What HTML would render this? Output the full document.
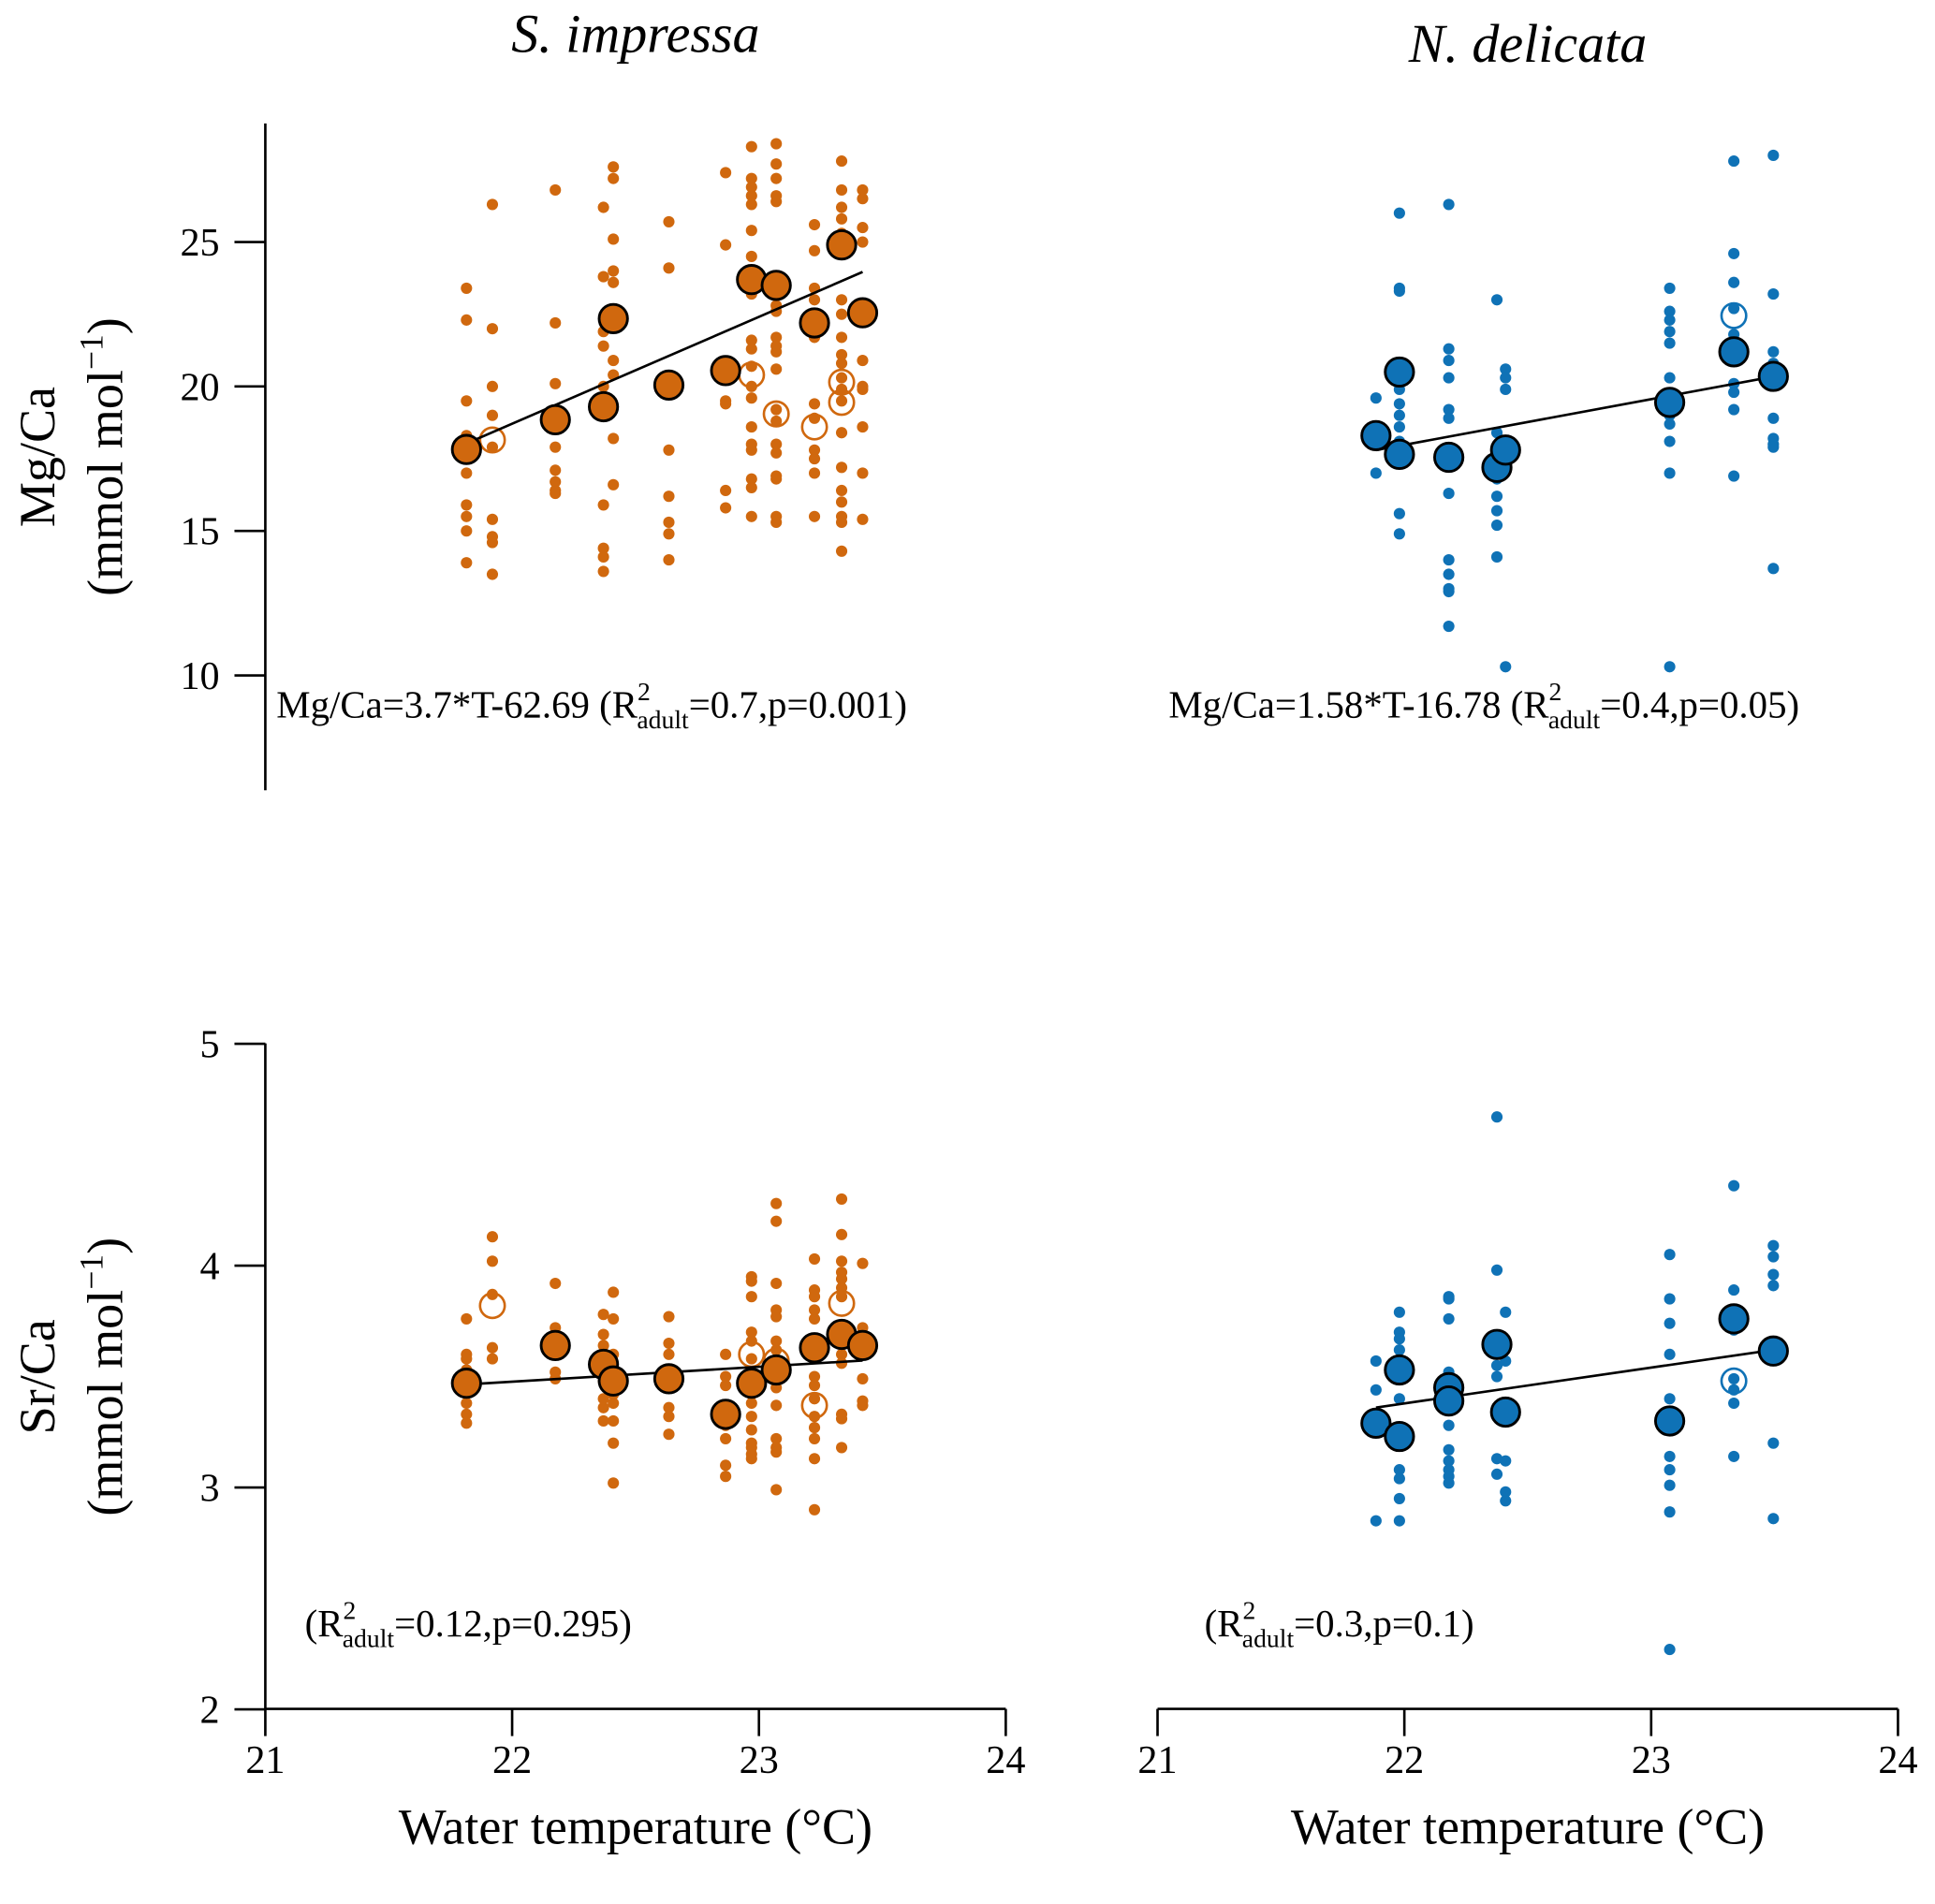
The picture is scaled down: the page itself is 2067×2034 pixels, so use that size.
<!DOCTYPE html>
<html><head><meta charset="utf-8"><style>
html,body{margin:0;padding:0;background:#fff;}
svg{display:block;}
text{font-family:"Liberation Serif",serif;fill:#000;}
</style></head><body>
<svg id="chart" xmlns="http://www.w3.org/2000/svg" width="2067" height="2034" viewBox="0 0 1568 1542" preserveAspectRatio="none">
<text x="515" y="42" font-size="44" font-style="italic" text-anchor="middle">S. impressa</text>
<text x="1238" y="50" font-size="44" font-style="italic" text-anchor="middle">N. delicata</text>
<g transform="translate(44,370) rotate(-90)"><text text-anchor="middle" font-size="41">Mg/Ca</text></g>
<g transform="translate(99,370) rotate(-90)"><text text-anchor="middle" font-size="41">(mmol mol<tspan dy="-16" font-size="27">−1</tspan><tspan dy="16">)</tspan></text></g>
<g transform="translate(44,1115) rotate(-90)"><text text-anchor="middle" font-size="41">Sr/Ca</text></g>
<g transform="translate(99,1115) rotate(-90)"><text text-anchor="middle" font-size="41">(mmol mol<tspan dy="-16" font-size="27">−1</tspan><tspan dy="16">)</tspan></text></g>
<text x="515" y="1493" font-size="41" text-anchor="middle">Water temperature (°C)</text>
<text x="1238" y="1493" font-size="41" text-anchor="middle">Water temperature (°C)</text>
<text x="224" y="581" font-size="31">Mg/Ca=3.7*T-62.69 (R<tspan dy="-14" font-size="21">2</tspan><tspan dx="-11" dy="23" font-size="21">adult</tspan><tspan dy="-9">=0.7,p=0.001)</tspan></text>
<text x="947" y="581" font-size="31">Mg/Ca=1.58*T-16.78 (R<tspan dy="-14" font-size="21">2</tspan><tspan dx="-11" dy="23" font-size="21">adult</tspan><tspan dy="-9">=0.4,p=0.05)</tspan></text>
<text x="247" y="1325" font-size="31">(R<tspan dy="-14" font-size="21">2</tspan><tspan dx="-11" dy="23" font-size="21">adult</tspan><tspan dy="-9">=0.12,p=0.295)</tspan></text>
<text x="976" y="1325" font-size="31">(R<tspan dy="-14" font-size="21">2</tspan><tspan dx="-11" dy="23" font-size="21">adult</tspan><tspan dy="-9">=0.3,p=0.1)</tspan></text>
</svg>
<script>
// ---- data ----
const tempsImp = [21.815,21.92,22.175,22.37,22.41,22.635,22.865,22.97,23.07,23.225,23.335,23.42];
const tempsDel = [21.885,21.98,22.18,22.375,22.41,23.075,23.335,23.495];
const mgImpDots = [
 [23.4,22.3,19.5,18.3,17.5,17.0,15.9,15.5,15.0,13.9],
 [26.3,22.0,20.0,19.0,17.9,15.4,14.8,14.6,13.5],
 [26.8,22.2,20.1,17.9,17.1,16.7,16.4,16.3],
 [26.2,23.8,21.9,21.4,20.0,15.9,14.4,14.1,13.6],
 [27.6,27.2,25.1,24.0,23.6,20.9,20.4,18.2,16.6],
 [25.7,24.1,17.8,16.2,15.3,14.9,14.0],
 [27.4,24.9,19.5,19.4,16.4,15.8],
 [28.3,27.2,26.9,26.6,26.3,25.4,24.5,23.2,21.6,21.3,20.7,20.0,19.6,18.6,18.0,17.8,16.8,16.5,15.5],
 [28.4,27.7,27.2,26.6,26.4,22.8,22.6,21.7,21.4,21.2,20.6,19.2,18.8,18.0,17.7,16.9,16.8,15.5,15.3],
 [25.6,24.7,23.4,23.0,21.7,19.4,18.9,17.8,17.5,17.0,15.5],
 [27.8,26.8,26.2,25.8,25.3,23.0,22.5,21.7,21.1,20.8,20.3,19.9,19.5,18.4,17.2,16.4,16.0,15.5,15.3,14.3],
 [26.8,26.5,25.5,25.0,20.9,20.0,19.9,18.6,17.0,15.4]];
const mgImpAdultT = [21.815,22.175,22.37,22.41,22.635,22.865,22.97,23.07,23.225,23.335,23.42];
const mgImpAdult = [17.82,18.85,19.3,22.35,20.05,20.55,23.7,23.5,22.2,24.9,22.55];
const mgImpOpenT = [21.92,22.97,23.07,23.225,23.335,23.335];
const mgImpOpen = [18.15,20.4,19.05,18.6,20.15,19.45];
const mgImpFit = [3.7,-62.69];
const mgDelDots = [
 [19.6,18.6,17.0],
 [26.0,23.4,23.3,20.3,19.9,19.4,19.0,18.6,18.1,17.7,15.6,14.9],
 [26.3,21.3,20.9,20.3,19.2,18.9,17.3,16.3,14.0,13.5,13.0,12.9,11.7],
 [23.0,18.4,16.8,16.2,15.7,15.2,14.1],
 [20.6,20.3,19.9,18.0,10.3],
 [23.4,22.6,22.3,21.9,21.5,20.3,19.0,18.7,18.1,17.0,10.3],
 [27.8,24.6,23.6,22.7,21.8,21.3,20.1,19.8,19.2,16.9],
 [28.0,23.2,21.2,20.8,18.9,18.2,18.0,17.9,13.7]];
const mgDelAdultT = [21.885,21.98,21.98,22.18,22.375,22.41,23.075,23.335,23.495];
const mgDelAdult = [18.3,20.5,17.65,17.55,17.2,17.8,19.45,21.2,20.35];
const mgDelOpenT = [23.335];
const mgDelOpen = [22.45];
const mgDelFit = [1.58,-16.78];
const srImpDots = [
 [3.76,3.6,3.58,3.53,3.5,3.38,3.33,3.29],
 [4.13,4.02,3.87,3.63,3.58],
 [3.92,3.72,3.52,3.49],
 [3.78,3.69,3.64,3.48,3.4,3.36,3.3],
 [3.88,3.76,3.6,3.42,3.38,3.3,3.2,3.02],
 [3.77,3.65,3.6,3.36,3.32,3.24],
 [3.6,3.5,3.46,3.28,3.22,3.1,3.05],
 [3.95,3.93,3.86,3.7,3.66,3.58,3.42,3.38,3.32,3.26,3.2,3.18,3.15,3.13],
 [4.28,4.2,3.92,3.8,3.77,3.66,3.62,3.45,3.37,3.22,3.18,3.16,2.99],
 [4.03,3.89,3.86,3.8,3.76,3.5,3.46,3.4,3.32,3.27,3.22,3.13,2.9],
 [4.3,4.14,4.02,3.97,3.94,3.9,3.86,3.6,3.56,3.33,3.31,3.18],
 [4.01,3.72,3.49,3.39,3.37]];
const srImpAdultT = [21.815,22.175,22.37,22.41,22.635,22.865,22.97,23.07,23.225,23.335,23.42];
const srImpAdult = [3.47,3.64,3.555,3.48,3.49,3.33,3.47,3.53,3.63,3.69,3.64];
const srImpOpenT = [21.92,22.97,23.07,23.225,23.335];
const srImpOpen = [3.82,3.6,3.57,3.37,3.83];
const srImpFit = [0.067,2.003];
const srDelDots = [
 [3.57,3.44,3.3,2.85],
 [3.79,3.7,3.67,3.62,3.4,3.08,3.04,2.95,2.85],
 [3.86,3.85,3.76,3.52,3.5,3.28,3.17,3.12,3.08,3.05,3.02],
 [4.67,3.98,3.55,3.5,3.13,3.06],
 [3.79,3.57,3.12,2.98,2.94],
 [4.05,3.85,3.74,3.6,3.4,3.14,3.08,3.01,2.89,2.27],
 [4.36,3.89,3.71,3.49,3.44,3.38,3.14],
 [4.09,4.04,3.96,3.91,3.61,3.2,2.86]];
const srDelAdultT = [21.885,21.98,21.98,22.18,22.18,22.375,22.41,23.075,23.335,23.495];
const srDelAdult = [3.29,3.53,3.23,3.45,3.39,3.645,3.34,3.3,3.76,3.615];
const srDelOpenT = [23.335];
const srDelOpen = [3.48];
const srDelFit = [0.1615,-0.174];
const mgTicks = [10,15,20,25];
const srTicks = [2,3,4,5];
const xTicks = [21,22,23,24];

// ---- rendering ----
const NS='http://www.w3.org/2000/svg';
const svg=document.getElementById('chart');
const ORANGE='#D0680E', BLUE='#0F72B6';
function el(tag,attrs,parent){const e=document.createElementNS(NS,tag);for(const k in attrs)e.setAttribute(k,attrs[k]);(parent||svg).appendChild(e);return e;}
function xScale(x0){return t=>x0+(t-21)*200;}
const mgY=v=>313-(v-20)*23.4;
const srY=v=>1025-(v-4)*179.7;

function panel(name,xs,ys,tDots,dots,adT,ad,opT,op,fit,color){
  const g=el('g',{});
  
  
  tDots.forEach((t,i)=>dots[i].forEach(v=>{
    const c=el('circle',{cx:xs(t),cy:ys(v),r:4.6,fill:color},g);
    
    
  }));
  opT.forEach((t,i)=>{
    const c=el('circle',{cx:xs(t),cy:ys(op[i]),r:10,fill:'none',stroke:color,'stroke-width':2},g);
    
    
  });
  const tmin=Math.min(...adT), tmax=Math.max(...adT);
  const ln=el('line',{x1:xs(tmin),y1:ys(fit[0]*tmin+fit[1]),x2:xs(tmax),y2:ys(fit[0]*tmax+fit[1]),stroke:'#000','stroke-width':2},g);
  
  
  adT.forEach((t,i)=>{
    const c=el('circle',{cx:xs(t),cy:ys(ad[i]),r:11.5,fill:color,stroke:'#000','stroke-width':2.2},g);
    
    
  });
}
function yAxis(name,y0,y1,ticks,ys){
  const g=el('g',{});
  
  
  el('line',{x1:215,y1:y0,x2:215,y2:y1,stroke:'#000','stroke-width':2},g);
  ticks.forEach(v=>{
    el('line',{x1:190,y1:ys(v),x2:215,y2:ys(v),stroke:'#000','stroke-width':2},g);
    const t=el('text',{x:178,y:ys(v)+11,'font-size':32,'text-anchor':'end'},g);
    t.textContent=v;
  });
}
function xAxis(name,x0){
  const xs=xScale(x0);
  const g=el('g',{});
  
  
  el('line',{x1:xs(21),y1:1384,x2:xs(24),y2:1384,stroke:'#000','stroke-width':2},g);
  xTicks.forEach(v=>{
    el('line',{x1:xs(v),y1:1384,x2:xs(v),y2:1406,stroke:'#000','stroke-width':2},g);
    const t=el('text',{x:xs(v),y:1436,'font-size':32,'text-anchor':'middle'},g);
    t.textContent=v;
  });
}
const xL=xScale(215), xR=xScale(938);
yAxis('y-axis-mg',100,640,mgTicks,mgY);
yAxis('y-axis-sr',845,1384,srTicks,srY);
xAxis('x-axis-left',215);
xAxis('x-axis-right',938);
panel('panel-mg-impressa',xL,mgY,tempsImp,mgImpDots,mgImpAdultT,mgImpAdult,mgImpOpenT,mgImpOpen,mgImpFit,ORANGE);
panel('panel-mg-delicata',xR,mgY,tempsDel,mgDelDots,mgDelAdultT,mgDelAdult,mgDelOpenT,mgDelOpen,mgDelFit,BLUE);
panel('panel-sr-impressa',xL,srY,tempsImp,srImpDots,srImpAdultT,srImpAdult,srImpOpenT,srImpOpen,srImpFit,ORANGE);
panel('panel-sr-delicata',xR,srY,tempsDel,srDelDots,srDelAdultT,srDelAdult,srDelOpenT,srDelOpen,srDelFit,BLUE);
</script>
</body></html>
